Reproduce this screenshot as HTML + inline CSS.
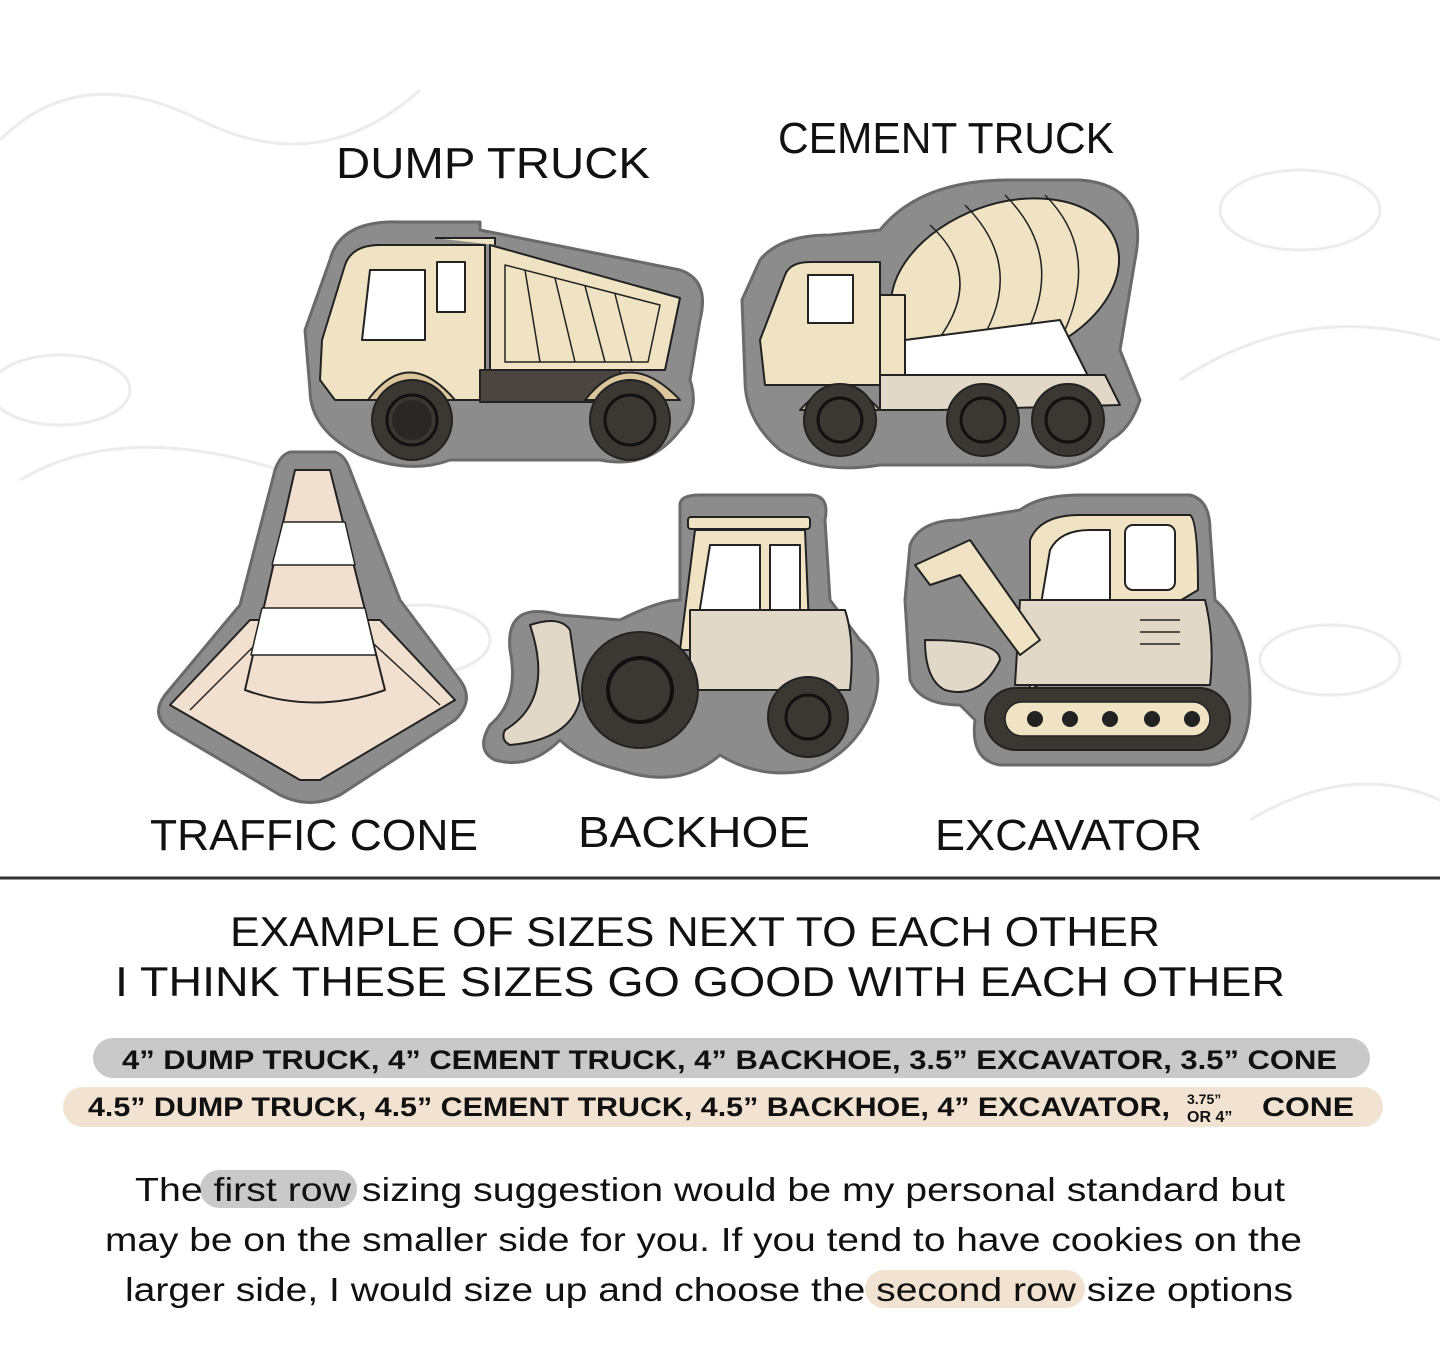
<!DOCTYPE html>
<html><head><meta charset="utf-8"><style>
html,body{margin:0;padding:0;background:#fff;}
svg{display:block}
text{font-family:"Liberation Sans",sans-serif;fill:#111;}
</style></head><body>
<svg width="1445" height="1372" viewBox="0 0 1445 1372" xmlns="http://www.w3.org/2000/svg">
<rect width="1445" height="1372" fill="#fff"/>
<!-- faint watermark -->
<g fill="none" stroke="#ececec" stroke-width="3">
<path d="M0 140 Q80 60 200 120 T420 90"/><path d="M1180 380 Q1300 300 1440 340"/>
<path d="M20 480 Q120 420 280 470"/><path d="M1250 820 Q1350 760 1440 800"/>
<ellipse cx="60" cy="390" rx="70" ry="35"/><ellipse cx="1300" cy="210" rx="80" ry="40"/>
<ellipse cx="420" cy="640" rx="70" ry="35"/><ellipse cx="1330" cy="660" rx="70" ry="35"/>
</g>

<!-- labels -->
<g font-size="44">
<text x="336" y="178" textLength="314" lengthAdjust="spacingAndGlyphs">DUMP TRUCK</text>
<text x="778" y="153" textLength="336" lengthAdjust="spacingAndGlyphs">CEMENT TRUCK</text>
<text x="150" y="850" textLength="328" lengthAdjust="spacingAndGlyphs">TRAFFIC CONE</text>
<text x="578" y="847" textLength="232" lengthAdjust="spacingAndGlyphs">BACKHOE</text>
<text x="935" y="850" textLength="267" lengthAdjust="spacingAndGlyphs">EXCAVATOR</text>
</g>

<g stroke-linejoin="round">
<!-- DUMP TRUCK -->
<path d="M330 260 Q340 220 400 222 L480 222 L480 230 L680 270 Q710 280 700 320 L690 380 Q700 410 680 430 Q650 470 600 460 L450 460 Q410 475 360 455 Q310 430 310 390 L305 330 Z" fill="#8c8c8c" stroke="#6a6a6a" stroke-width="3"/>
<path d="M345 265 Q352 245 380 245 L485 245 L485 400 L335 400 L320 380 L322 340 Z" fill="#efe3c4" stroke="#222" stroke-width="2"/>
<path d="M435 238 L495 238 L495 245" fill="#efe3c4" stroke="#222" stroke-width="2"/>
<path d="M490 245 L680 298 L665 370 L490 370 Z" fill="#efe3c4" stroke="#222" stroke-width="2"/>
<path d="M505 265 L660 305 L648 362 L505 362 Z" fill="none" stroke="#222" stroke-width="1.5"/>
<g stroke="#222" stroke-width="1.5"><line x1="525" y1="270" x2="540" y2="362"/><line x1="555" y1="278" x2="575" y2="362"/><line x1="585" y1="286" x2="605" y2="362"/><line x1="615" y1="294" x2="632" y2="362"/></g>
<path d="M370 270 L425 270 L425 340 L362 340 Z" fill="#fff" stroke="#222" stroke-width="2"/>
<rect x="437" y="262" width="28" height="50" fill="#fff" stroke="#222" stroke-width="2"/>
<rect x="480" y="370" width="140" height="32" fill="#4a4540" stroke="#222" stroke-width="2"/>
<path d="M368 400 Q408 345 455 400 Z" fill="#dcc79c" stroke="#222" stroke-width="2"/>
<path d="M585 400 Q628 345 680 400 Z" fill="#dcc79c" stroke="#222" stroke-width="2"/>
<circle cx="412" cy="420" r="40" fill="#3b3834" stroke="#222" stroke-width="2"/><circle cx="412" cy="420" r="20" fill="#2a2725"/><circle cx="412" cy="420" r="25" fill="none" stroke="#111" stroke-width="3"/>
<circle cx="630" cy="420" r="40" fill="#3b3834" stroke="#222" stroke-width="2"/><circle cx="630" cy="420" r="25" fill="none" stroke="#111" stroke-width="3"/>

<!-- CEMENT TRUCK -->
<path d="M760 260 Q780 235 830 235 L880 230 Q920 180 1010 180 L1080 180 Q1150 185 1135 260 L1120 350 L1140 400 Q1130 430 1110 440 Q1080 475 1030 465 L880 465 Q820 475 780 450 Q745 420 745 380 L742 300 Z" fill="#8c8c8c" stroke="#6a6a6a" stroke-width="3"/>
<ellipse cx="1005" cy="282" rx="118" ry="78" transform="rotate(-20 1005 282)" fill="#efe3c4" stroke="#222" stroke-width="2"/>
<g stroke="#222" stroke-width="1.5" fill="none"><path d="M930 225 Q990 280 930 350"/><path d="M965 205 Q1030 270 975 350"/><path d="M1005 195 Q1070 260 1020 345"/><path d="M1045 195 Q1100 250 1065 330"/></g>
<path d="M1060 320 L1090 380 L905 380 L905 340 Z" fill="#fff" stroke="#222" stroke-width="2"/>
<path d="M785 275 Q790 262 810 262 L880 262 L880 385 L765 385 L760 340 Z" fill="#efe3c4" stroke="#222" stroke-width="2"/>
<rect x="808" y="275" width="45" height="48" fill="#fff" stroke="#222" stroke-width="2"/>
<rect x="880" y="295" width="25" height="90" fill="#efe3c4" stroke="#222" stroke-width="2"/>
<path d="M880 375 L1105 375 L1120 405 L940 410 L880 410 Z" fill="#e2d8c8" stroke="#222" stroke-width="2"/>
<path d="M800 410 Q840 365 880 410 Z" fill="#e6d2a4" stroke="#222" stroke-width="2"/>
<circle cx="840" cy="420" r="36" fill="#3b3834" stroke="#222" stroke-width="2"/><circle cx="840" cy="420" r="22" fill="none" stroke="#111" stroke-width="3"/>
<circle cx="983" cy="420" r="36" fill="#3b3834" stroke="#222" stroke-width="2"/><circle cx="983" cy="420" r="22" fill="none" stroke="#111" stroke-width="3"/>
<circle cx="1068" cy="420" r="36" fill="#3b3834" stroke="#222" stroke-width="2"/><circle cx="1068" cy="420" r="22" fill="none" stroke="#111" stroke-width="3"/>

<!-- TRAFFIC CONE -->
<path d="M290 452 L335 452 Q345 455 350 470 L400 600 L460 680 Q475 700 455 720 L340 795 Q310 810 280 795 L170 730 Q150 715 165 695 L240 605 L275 470 Q280 455 290 452 Z" fill="#8c8c8c" stroke="#6a6a6a" stroke-width="3"/>
<path d="M170 705 L250 620 L380 620 L455 700 L320 780 L300 780 Z" fill="#f1e0cf" stroke="#222" stroke-width="2"/>
<path d="M190 710 L255 645 L375 645 L440 705" fill="none" stroke="#222" stroke-width="1.5"/>
<path d="M295 470 L330 470 L385 690 Q315 715 245 690 Z" fill="#f1e0cf" stroke="#222" stroke-width="2"/>
<path d="M283 522 L345 522 L355 565 L272 565 Z" fill="#fff" stroke="#222" stroke-width="1.5"/>
<path d="M262 608 L365 608 L376 655 L251 655 Z" fill="#fff" stroke="#222" stroke-width="1.5"/>

<!-- BACKHOE -->
<path d="M680 505 Q680 495 700 495 L810 495 Q830 495 825 520 L830 600 L860 640 Q885 660 875 700 Q860 750 810 770 Q760 780 720 755 Q680 790 620 770 Q580 760 560 740 Q530 770 495 760 Q475 750 490 725 Q520 700 510 650 Q505 600 560 615 L620 620 Q660 600 680 600 Z" fill="#8c8c8c" stroke="#6a6a6a" stroke-width="3"/>
<rect x="688" y="517" width="122" height="12" rx="3" fill="#efe3c4" stroke="#222" stroke-width="2"/>
<path d="M695 530 L805 530 L810 650 L680 650 Z" fill="#efe3c4" stroke="#222" stroke-width="2"/>
<path d="M710 545 L760 545 L760 640 L695 640 Z" fill="#fff" stroke="#222" stroke-width="2"/>
<rect x="770" y="545" width="30" height="65" fill="#fff" stroke="#222" stroke-width="2"/>
<path d="M690 610 L845 610 Q855 640 850 690 L690 690 Z" fill="#e2d8c8" stroke="#222" stroke-width="2"/>
<path d="M530 625 Q560 615 570 630 L580 700 Q570 740 510 745 Q500 740 505 730 Q555 700 530 625 Z" fill="#e2d8c8" stroke="#222" stroke-width="2"/>
<circle cx="640" cy="690" r="58" fill="#3b3834" stroke="#222" stroke-width="2"/><circle cx="640" cy="690" r="32" fill="none" stroke="#111" stroke-width="4"/>
<circle cx="808" cy="717" r="40" fill="#3b3834" stroke="#222" stroke-width="2"/><circle cx="808" cy="717" r="22" fill="none" stroke="#111" stroke-width="3"/>

<!-- EXCAVATOR -->
<path d="M910 545 Q920 520 960 520 L1020 510 Q1040 495 1080 495 L1190 495 Q1210 500 1210 530 L1215 600 Q1250 630 1250 700 Q1250 760 1210 765 L1000 765 Q970 760 975 720 L960 705 Q920 705 910 680 L905 600 Z" fill="#8c8c8c" stroke="#6a6a6a" stroke-width="3"/>
<path d="M1030 540 Q1040 515 1080 515 L1190 515 Q1198 520 1198 590 L1030 690 Z" fill="#efe3c4" stroke="#222" stroke-width="2"/>
<path d="M1050 550 Q1060 530 1090 530 L1110 530 L1110 610 L1040 610 Z" fill="#fff" stroke="#222" stroke-width="2"/>
<rect x="1125" y="525" width="50" height="65" rx="8" fill="#fff" stroke="#222" stroke-width="2"/>
<path d="M1020 600 L1205 600 Q1215 640 1210 685 L1015 685 Z" fill="#e2d8c8" stroke="#222" stroke-width="2"/>
<g stroke="#222" stroke-width="1.5"><line x1="1140" y1="620" x2="1180" y2="620"/><line x1="1140" y1="632" x2="1180" y2="632"/><line x1="1140" y1="644" x2="1180" y2="644"/></g>
<path d="M915 565 L970 540 L1040 640 L1020 655 L960 575 L930 585 Z" fill="#efe3c4" stroke="#222" stroke-width="2"/>
<path d="M925 640 Q1000 640 1000 660 Q980 700 945 690 Q925 680 925 640 Z" fill="#e2d8c8" stroke="#222" stroke-width="2"/>
<rect x="985" y="688" width="245" height="62" rx="31" fill="#3b3834" stroke="#222" stroke-width="2"/>
<rect x="1005" y="702" width="205" height="34" rx="17" fill="#efe3c4" stroke="#222" stroke-width="1.5"/>
<g fill="#222"><circle cx="1035" cy="719" r="8"/><circle cx="1070" cy="719" r="8"/><circle cx="1110" cy="719" r="8"/><circle cx="1152" cy="719" r="8"/><circle cx="1192" cy="719" r="8"/></g>
</g>

<line x1="0" y1="878" x2="1440" y2="878" stroke="#333" stroke-width="3"/>

<g font-size="42">
<text x="230" y="946" textLength="930" lengthAdjust="spacingAndGlyphs">EXAMPLE OF SIZES NEXT TO EACH OTHER</text>
<text x="115" y="996" textLength="1170" lengthAdjust="spacingAndGlyphs">I THINK THESE SIZES GO GOOD WITH EACH OTHER</text>
</g>

<rect x="93" y="1038" width="1277" height="40" rx="20" fill="#c9c9c9"/>
<rect x="63" y="1087" width="1320" height="40" rx="20" fill="#f1e2d2"/>
<g font-size="27" font-weight="bold" fill="#222">
<text x="122" y="1069" textLength="1215" lengthAdjust="spacingAndGlyphs">4” DUMP TRUCK, 4” CEMENT TRUCK, 4” BACKHOE, 3.5” EXCAVATOR,   3.5”  CONE</text>
<text x="88" y="1116" textLength="1082" lengthAdjust="spacingAndGlyphs">4.5” DUMP TRUCK, 4.5” CEMENT TRUCK, 4.5” BACKHOE, 4” EXCAVATOR,</text>
<text x="1187" y="1104" font-size="14">3.75”</text>
<text x="1187" y="1122" font-size="16">OR 4”</text>
<text x="1262" y="1116" textLength="92" lengthAdjust="spacingAndGlyphs">CONE</text>
</g>

<rect x="200" y="1170" width="157" height="38" rx="19" fill="#c9c9c9"/>
<rect x="865" y="1270" width="220" height="38" rx="19" fill="#f1e2d2"/>
<g font-size="33">
<text x="135" y="1201" textLength="1150" lengthAdjust="spacingAndGlyphs">The first row sizing suggestion would be my personal standard but</text>
<text x="105" y="1251" textLength="1197" lengthAdjust="spacingAndGlyphs">may be on the smaller side for you. If you tend to have cookies on the</text>
<text x="125" y="1301" textLength="1168" lengthAdjust="spacingAndGlyphs">larger side, I would size up and choose the second row size options</text>
</g>
</svg>
</body></html>
